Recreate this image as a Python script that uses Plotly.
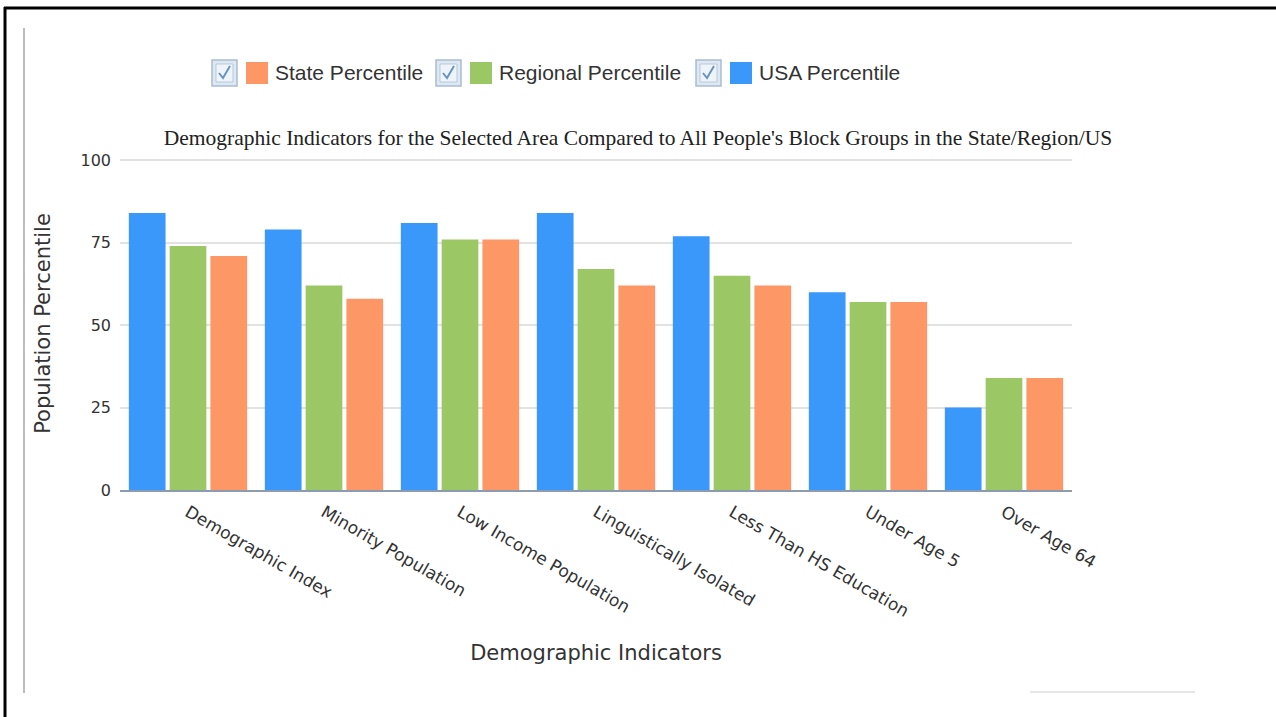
import plotly.graph_objects as go

categories = ["Demographic Index", "Minority Population", "Low Income Population",
              "Linguistically Isolated", "Less Than HS Education", "Under Age 5", "Over Age 64"]
usa_pct = [84, 79, 81, 84, 77, 60, 25]
regional_pct = [74, 62, 76, 67, 65, 57, 34]
state_pct = [71, 58, 76, 62, 62, 57, 34]
series_names = ["USA Percentile", "Regional Percentile", "State Percentile"]
legend_order = ["State Percentile", "Regional Percentile", "USA Percentile"]
y_ticks = [0, 25, 50, 75, 100]

colors = {"USA Percentile": "#3a98fb", "Regional Percentile": "#9bc865", "State Percentile": "#fd9766"}

W, H = 1276, 717
L, R, T, B = 120, 1072, 157, 490


def px(x):
    return (x - L) / (R - L)


def py(y):
    return (B - y) / (B - T)


fig = go.Figure()
for name, vals in zip(series_names, [usa_pct, regional_pct, state_pct]):
    fig.add_trace(go.Bar(x=categories, y=vals, name=name,
                         marker=dict(color=colors[name], line=dict(width=0)),
                         showlegend=False))

shapes = []
annotations = []
# manual legend with checkboxes
leg_x = [212, 436, 696]
for i, name in enumerate(legend_order):
    cx = leg_x[i]
    shapes.append(dict(type="rect", xref="paper", yref="paper",
                       x0=px(cx), x1=px(cx + 25), y0=py(86), y1=py(60),
                       fillcolor="#dde8f2", line=dict(color="#a9bccf", width=1.5)))
    shapes.append(dict(type="rect", xref="paper", yref="paper",
                       x0=px(cx + 4), x1=px(cx + 21), y0=py(82), y1=py(64),
                       fillcolor="#eef4fa", line=dict(color="#b8c9da", width=1)))
    path = "M {} {} L {} {} L {} {}".format(px(cx + 7), py(73), px(cx + 11), py(78), px(cx + 18), py(66))
    shapes.append(dict(type="path", xref="paper", yref="paper", path=path,
                       line=dict(color="#6a93bd", width=2)))
    sx = cx + 34
    shapes.append(dict(type="rect", xref="paper", yref="paper",
                       x0=px(sx), x1=px(sx + 22), y0=py(84), y1=py(62),
                       fillcolor=colors[name], line=dict(width=0)))
    annotations.append(dict(text=name, xref="paper", yref="paper", x=px(sx + 27), y=py(72),
                            xanchor="left", yanchor="middle", showarrow=False,
                            font=dict(family="Liberation Sans, Arial, sans-serif", size=21, color="#333333")))

# frame decorations
shapes.append(dict(type="line", xref="paper", yref="paper", x0=px(4), x1=px(1276), y0=py(8), y1=py(8),
                   line=dict(color="#000000", width=3)))
shapes.append(dict(type="line", xref="paper", yref="paper", x0=px(5), x1=px(5), y0=py(7), y1=py(717),
                   line=dict(color="#000000", width=3)))
shapes.append(dict(type="line", xref="paper", yref="paper", x0=px(24), x1=px(24), y0=py(28), y1=py(693),
                   line=dict(color="#bdbdbd", width=2)))
shapes.append(dict(type="line", xref="paper", yref="paper", x0=px(1030), x1=px(1195), y0=py(692), y1=py(692),
                   line=dict(color="#e6e6e6", width=2)))

fig.update_layout(
    width=W, height=H,
    margin=dict(l=L, r=W - R, t=T, b=H - B),
    paper_bgcolor="white", plot_bgcolor="white",
    barmode="group", bargap=0.1, bargroupgap=0.1,
    showlegend=False,
    title=dict(text="Demographic Indicators for the Selected Area Compared to All People's Block Groups in the State/Region/US",
               x=638 / W, xanchor="center", y=1 - 137 / H, yanchor="middle",
               font=dict(family="Liberation Serif, Times New Roman, serif", size=21.5, color="#222222")),
    shapes=shapes, annotations=annotations,
    font=dict(family="DejaVu Sans, Verdana, sans-serif", color="#333333"),
)
fig.update_xaxes(tickangle=30, tickfont=dict(size=17, color="#333333"),
                 showline=True, linecolor="#8c9cb0", linewidth=2, showgrid=False,
                 ticklabelstandoff=4,
                 title=dict(text="Demographic Indicators", font=dict(size=21, color="#333333"), standoff=26),
                 automargin=False)
fig.update_yaxes(range=[0, 101], tickvals=y_ticks, tickfont=dict(size=16, color="#333333"),
                 showgrid=True, gridcolor="#e2e2e2", gridwidth=2, zeroline=False, showline=False,
                 ticklabelstandoff=8,
                 title=dict(text="Population Percentile", font=dict(size=21, color="#333333"), standoff=24),
                 automargin=False)

fig.write_html("out.html")
